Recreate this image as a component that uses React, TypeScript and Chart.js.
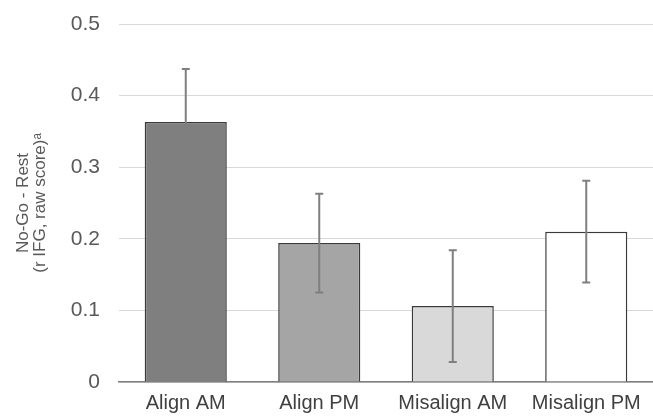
import React, { useEffect, useRef } from "react";
import { Chart, registerables } from "chart.js";

Chart.register(...registerables);

const categories = ["Align AM", "Align PM", "Misalign AM", "Misalign PM"];
const values = [0.363, 0.194, 0.106, 0.21];
const errors = [0.074, 0.069, 0.078, 0.071];
const barColors = ["#7f7f7f", "#a5a5a5", "#d9d9d9", "#ffffff"];
const yTitle = ["No-Go - Rest", "(r IFG, raw score)\u1D43"];

const errorBarPlugin = {
  id: "errorBars",
  afterDatasetsDraw(chart: any) {
    const ctx = chart.ctx;
    const meta = chart.getDatasetMeta(0);
    const y = chart.scales.y;
    ctx.save();
    ctx.strokeStyle = "#7f7f7f";
    ctx.lineWidth = 2;
    meta.data.forEach((bar: any, i: number) => {
      const x = bar.x;
      const top = y.getPixelForValue(values[i] + errors[i]);
      const bot = y.getPixelForValue(values[i] - errors[i]);
      ctx.beginPath();
      ctx.moveTo(x, top);
      ctx.lineTo(x, bot);
      ctx.moveTo(x - 4, top);
      ctx.lineTo(x + 4, top);
      ctx.moveTo(x - 4, bot);
      ctx.lineTo(x + 4, bot);
      ctx.stroke();
    });
    ctx.restore();
  },
};

export default function App() {
  const ref = useRef<HTMLCanvasElement>(null);
  useEffect(() => {
    const chart = new Chart(ref.current!, {
      type: "bar",
      data: {
        labels: categories,
        datasets: [
          {
            data: values,
            backgroundColor: barColors,
            borderColor: "#3a3a3a",
            borderWidth: 1.5,
            barPercentage: 0.615,
            categoryPercentage: 1,
          },
        ],
      },
      options: {
        responsive: false,
        animation: false,
        layout: { padding: { top: 24, right: 0, left: 0, bottom: 0 } },
        plugins: { legend: { display: false }, tooltip: { enabled: false } },
        scales: {
          x: {
            grid: { display: false, drawTicks: false },
            border: { color: "#7f7f7f", width: 1.5 },
            ticks: {
              color: "#404040",
              font: { family: "Liberation Sans, Arial", size: 20 },
              padding: 9,
              maxRotation: 0,
            },
            afterFit(scale: any) {
              scale.height = 34;
              scale.paddingLeft = 0;
              scale.paddingRight = 0;
            },
          },
          y: {
            min: 0,
            max: 0.5,
            ticks: {
              stepSize: 0.1,
              color: "#595959",
              font: { family: "Liberation Sans, Arial", size: 21 },
              padding: 19,
              callback: (v: any) => (v === 0 ? "0" : Number(v).toFixed(1)),
            },
            grid: { color: "#d9d9d9", lineWidth: 1, drawTicks: false },
            border: { display: false },
            title: {
              display: true,
              text: yTitle,
              color: "#595959",
              font: { family: "Liberation Sans, Arial", size: 17, lineHeight: 1.05 },
              padding: { top: 14, bottom: 0 },
            },
            afterFit(scale: any) {
              scale.width = 119;
              scale.paddingTop = 0;
              scale.paddingBottom = 0;
            },
          },
        },
      },
      plugins: [errorBarPlugin],
    } as any);
    return () => chart.destroy();
  }, []);
  return (
    <div style={{ position: "fixed", left: 0, top: 0, width: 653, height: 416, background: "#fff" }}>
      <canvas ref={ref} width={653} height={416} />
    </div>
  );
}
